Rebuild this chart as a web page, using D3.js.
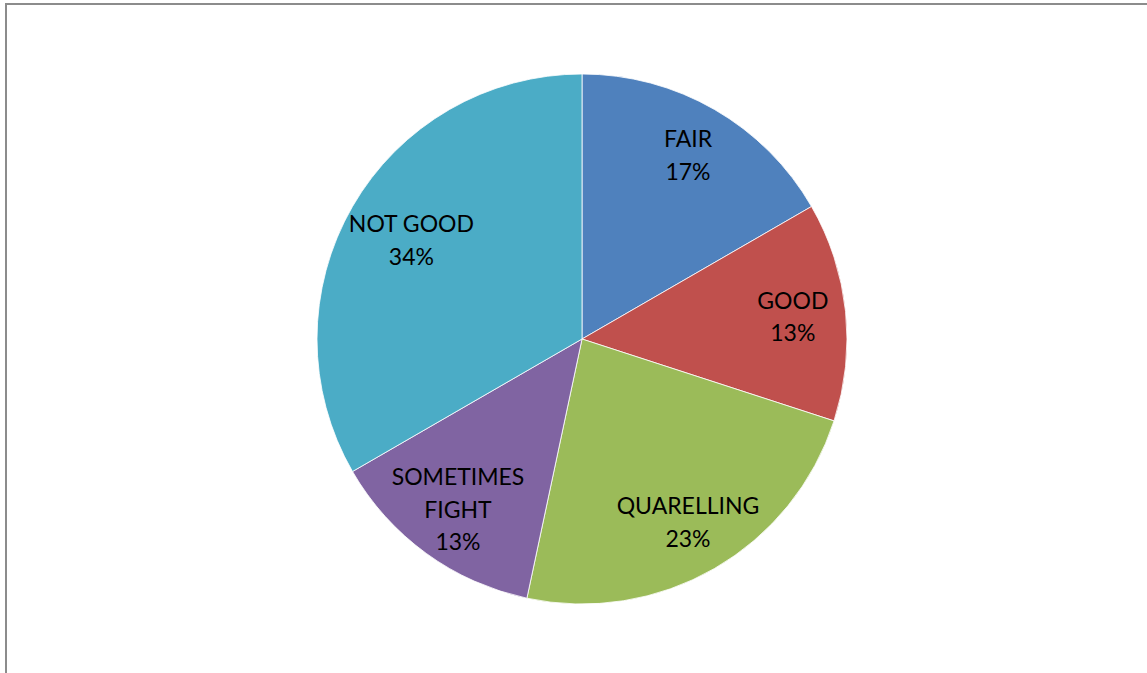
<!DOCTYPE html>
<html>
<head>
<meta charset="utf-8">
<script src="https://cdn.jsdelivr.net/npm/d3@7"></script>
<style>
  html, body { margin: 0; padding: 0; background: #fff; overflow: hidden; }
  svg { display: block; }
</style>
</head>
<body>
<svg id="chart" width="1147" height="673"></svg>
<script>
// ---- data ----
const categories = ["FAIR", "GOOD", "QUARELLING", "SOMETIMES FIGHT", "NOT GOOD"];
const labelLines = [["FAIR"], ["GOOD"], ["QUARELLING"], ["SOMETIMES", "FIGHT"], ["NOT GOOD"]];
const values = [5, 4, 7, 4, 10];
const percentLabels = ["17%", "13%", "23%", "13%", "34%"];
const colors = ["#4F81BD", "#C0504D", "#9BBB59", "#8064A2", "#4BACC6"];

// ---- layout ----
const W = 1147, H = 673;
const cx = 582, cy = 339, r = 265;
const fontSize = 23, lineH = 32.5;

const svg = d3.select("#chart");

// chart-area border (right/bottom beyond the window)
svg.append("rect")
  .attr("x", 6).attr("y", 4)
  .attr("width", W + 50).attr("height", H + 50)
  .attr("fill", "#fff")
  .attr("stroke", "#8c8c8c")
  .attr("stroke-width", 2);

const data = categories.map((c, i) => ({
  name: c, lines: labelLines[i], value: values[i], pct: percentLabels[i], color: colors[i]
}));

const pie = d3.pie().sort(null).value(d => d.value);
const arcs = pie(data);
const arc = d3.arc().innerRadius(0).outerRadius(r);

const g = svg.append("g").attr("transform", `translate(${cx},${cy})`);

g.selectAll("path.slice")
  .data(arcs)
  .join("path")
  .attr("class", "slice")
  .attr("d", arc)
  .attr("fill", d => d.data.color)
  .attr("stroke", "#ffffff")
  .attr("stroke-width", 0.8);

// labels: inside end, pulled inward if the text box would cross the rim
const labelG = g.selectAll("g.label")
  .data(arcs)
  .join("g")
  .attr("class", "label");

labelG.each(function(d) {
  const sel = d3.select(this);
  const lines = d.data.lines.concat([d.data.pct]);
  const n = lines.length;
  const t = sel.append("text")
    .attr("text-anchor", "middle")
    .attr("font-family", "Lato, 'Open Sans', sans-serif")
    .attr("font-size", fontSize)
    .attr("fill", "#000");
  lines.forEach((ln, k) => {
    t.append("tspan")
      .attr("x", 0)
      .attr("y", (k - (n - 1) / 2) * lineH)
      .attr("dy", "0.35em")
      .text(ln);
  });
  const bb = t.node().getBBox();
  const halfW = bb.width / 2;
  const mid = (d.startAngle + d.endAngle) / 2;
  const pad = 12;
  let dist = 0.8 * r;
  const pos = dd => [Math.sin(mid) * dd, -Math.cos(mid) * dd];
  for (let s = 0; s < 200; s++) {
    const [x, y] = pos(dist);
    const half = Math.sqrt(Math.max(0, r * r - y * y)) - pad;
    if (Math.abs(x) + halfW <= half) break;
    dist -= 1;
  }
  const [lx, ly] = pos(dist);
  sel.attr("transform", `translate(${lx},${ly})`);
});
</script>
</body>
</html>
